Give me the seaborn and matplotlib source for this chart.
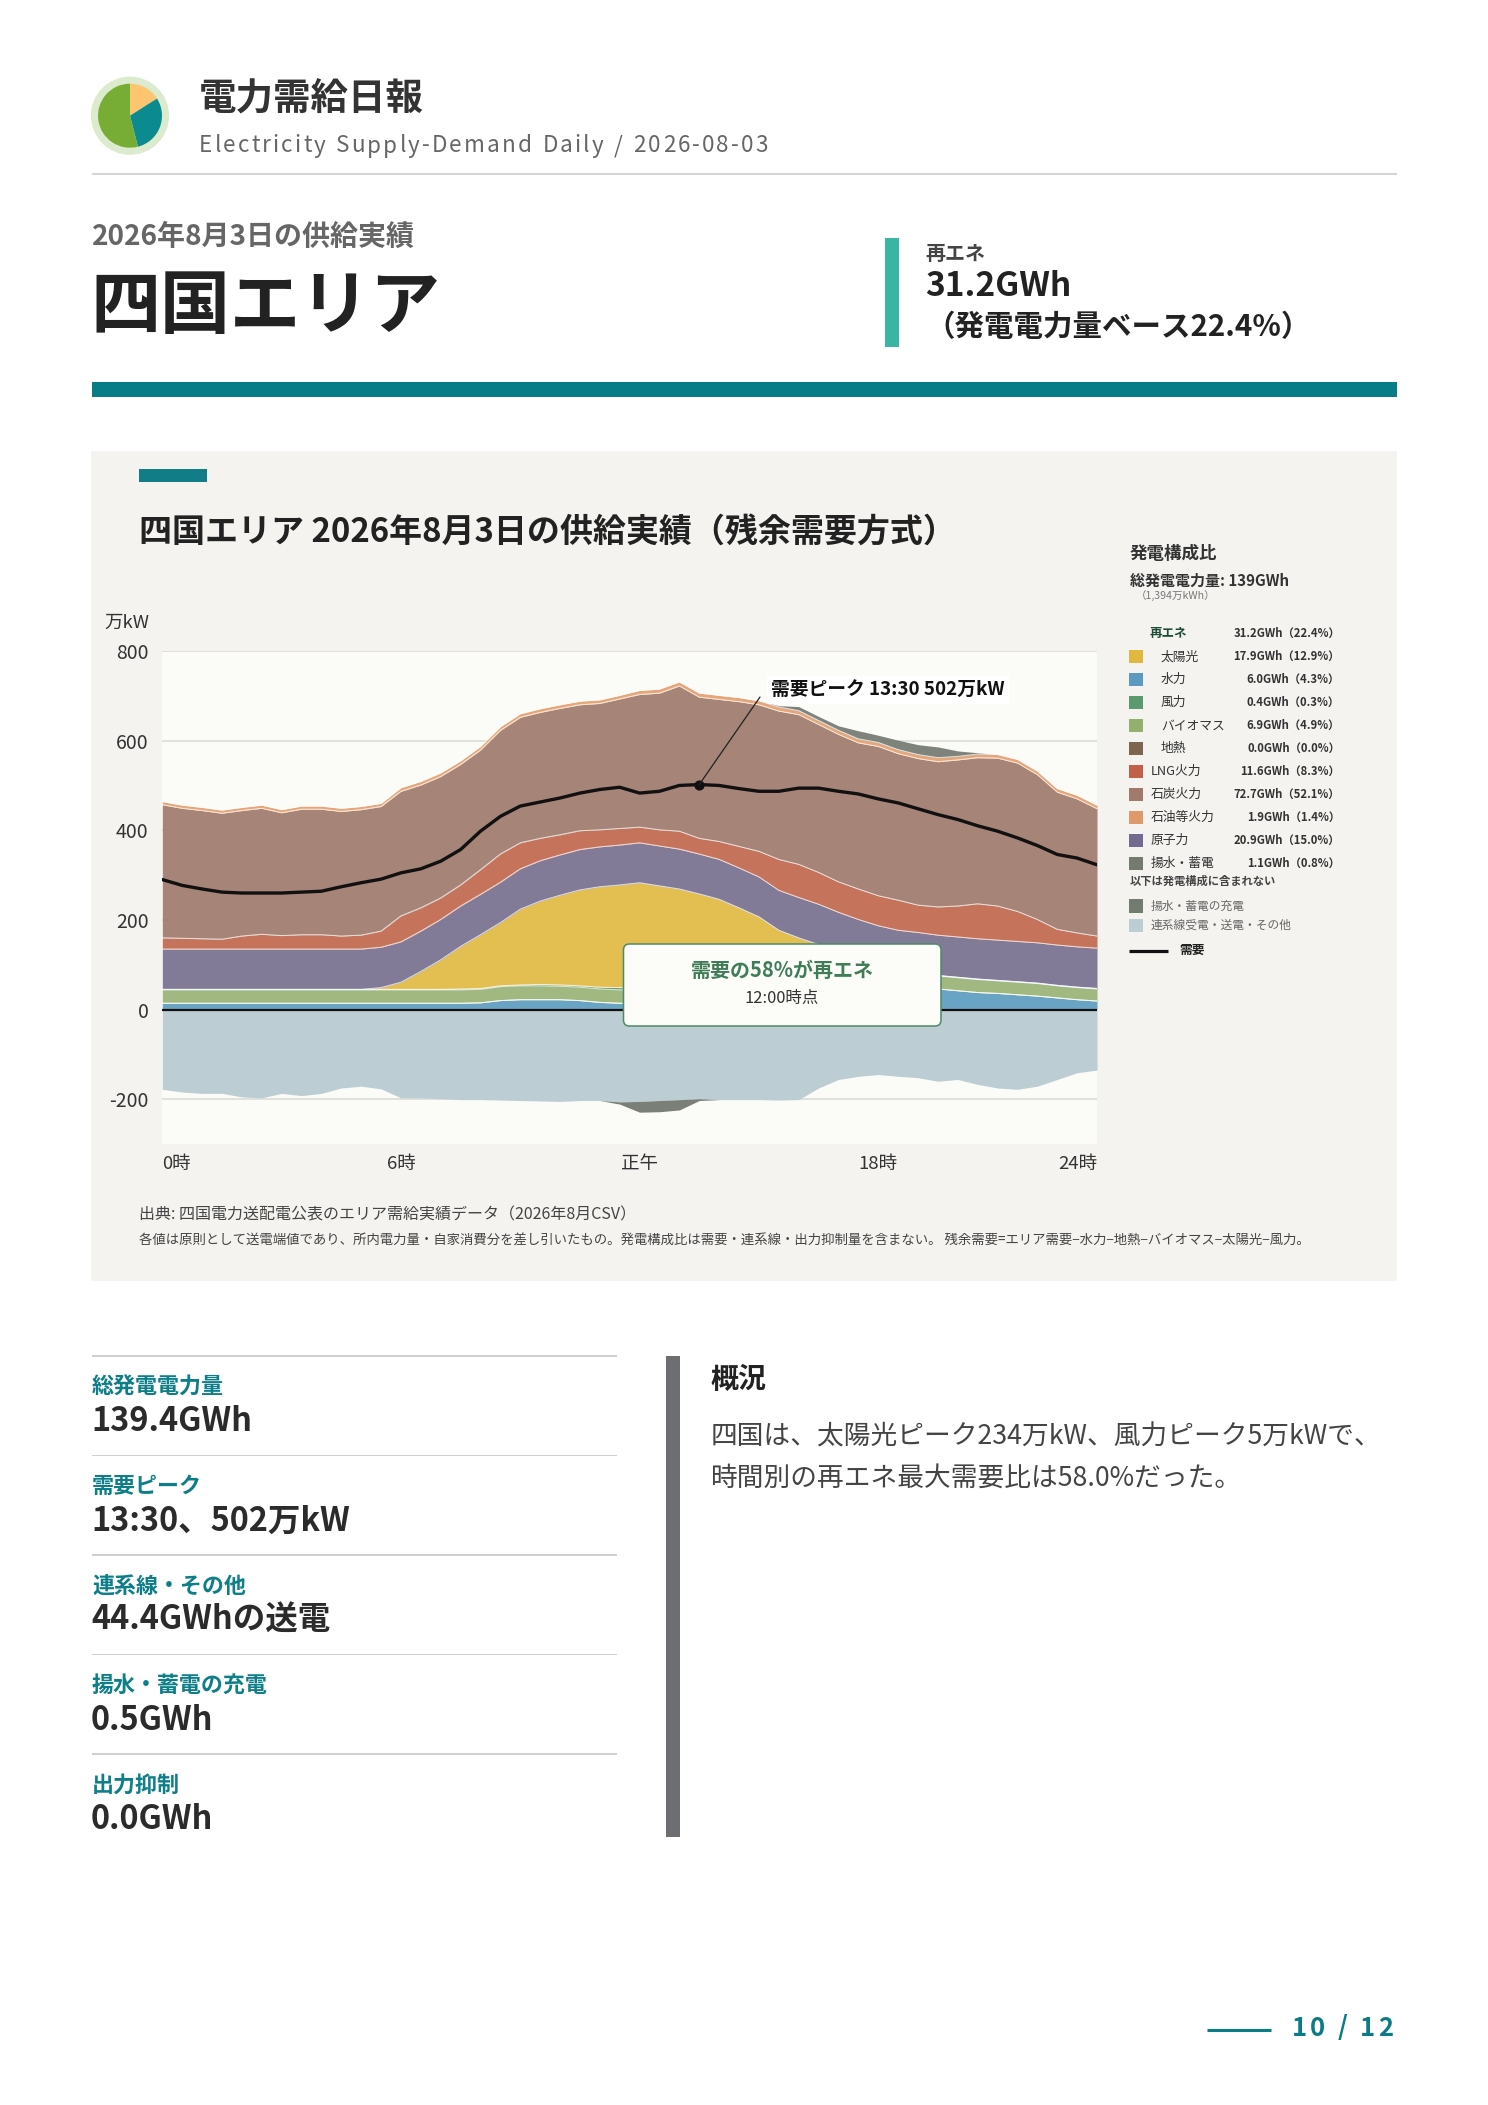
import numpy as np
import matplotlib
matplotlib.use("Agg")
import matplotlib.pyplot as plt
import seaborn as sns
from matplotlib.patches import Rectangle, FancyBboxPatch, Circle

# ---------------- data (万kW, 30-minute steps, 0:00 - 23:30) ----------------
hours = np.arange(48) * 0.5

hydro = [14, 14, 14, 14, 14, 14, 14, 14, 14, 14, 14, 14,
         14, 14, 14, 14, 15, 20, 22, 22, 22, 20, 16, 14,
         14, 14, 16, 18, 22, 26, 30, 34, 38, 42, 45, 47, 48, 48, 48, 46,
         42, 38, 36, 33, 30, 26, 22, 19]
geothermal = [0] * 48
biomass = [30, 30, 30, 30, 30, 30, 30, 30, 30, 30, 30, 30,
           30, 30, 30, 30, 30, 31, 31, 31, 30, 30, 30, 30,
           30, 30, 30, 30, 30, 30, 30, 30, 30, 30, 30, 30, 30, 29, 29, 29,
           29, 29, 28, 28, 28, 27, 27, 27]
wind = [1, 1, 1, 1, 1, 1, 1, 1, 1, 1, 1, 1,
        1, 1, 1, 2, 2, 2, 2, 3, 3, 3, 4, 5,
        5, 4, 3, 3, 2, 2, 2, 2, 2, 2, 2, 1, 1, 1, 1, 1,
        1, 1, 1, 1, 1, 1, 1, 1]
solar = [0, 0, 0, 0, 0, 0, 0, 0, 0, 0, 0, 4,
         16, 40, 66, 95, 120, 141, 169, 186, 200, 214, 224, 229,
         234, 228, 220, 207, 192, 169, 145, 111, 90, 71, 50, 33, 18, 9, 4, 0,
         0, 0, 0, 0, 0, 0, 0, 0]
nuclear = [90, 90, 90, 90, 90, 90, 90, 90, 90, 90, 90, 90,
           90, 90, 90, 90, 90, 90, 90, 90, 90, 90, 89, 89,
           89, 89, 89, 89, 89, 89, 89, 89, 90, 90, 90, 90, 90, 90, 90, 90,
           90, 90, 90, 90, 90, 90, 90, 90]
lng = [25, 24, 23, 22, 29, 33, 30, 32, 32, 29, 31, 36,
       58, 52, 48, 47, 55, 63, 58, 50, 45, 42, 38, 37,
       35, 36, 40, 35, 40, 48, 57, 69, 74, 71, 68, 68, 67, 67, 61, 63,
       69, 78, 76, 67, 52, 35, 31, 27]
coal = [297, 290, 286, 281, 280, 281, 274, 280, 280, 278, 280, 278,
        278, 274, 271, 269, 267, 276, 280, 281, 282, 281, 282, 289,
        296, 305, 324, 315, 317, 323, 327, 331, 334, 330, 329, 326, 333, 327, 327, 324,
        326, 326, 330, 331, 323, 306, 299, 284]
oil = [7] * 12 + [8] * 12 + [9] * 16 + [8] * 8
pumped_gen = [0] * 31 + [3, 9, 9, 10, 18, 16, 21, 22, 24, 12, 3] + [0] * 6
export = [178, 184, 187, 187, 195, 197, 187, 192, 187, 175, 171, 177,
          197, 197, 199, 201, 201, 202, 203, 204, 205, 203, 203, 206,
          205, 203, 201, 199, 201, 201, 201, 202, 201, 175, 156, 149, 145, 149, 152, 160,
          156, 167, 175, 178, 171, 156, 141, 135]
charging = [0] * 23 + [5, 24, 25, 23, 4] + [0] * 20
demand = [290, 277, 269, 262, 260, 260, 260, 262, 264, 274, 283, 291,
          305, 314, 331, 357, 398, 431, 454, 463, 472, 483, 491, 496,
          483, 487, 500, 502, 500, 493, 487, 487, 494, 494, 487, 481, 470, 461, 448, 435,
          424, 410, 398, 383, 366, 346, 338, 323]

x_ticks = [0, 6, 12, 18, 23.5]
x_ticklabels = ["0時", "6時", "正午", "18時", "24時"]
y_ticks = [-200, 0, 200, 400, 600, 800]

legend_labels = ["太陽光", "水力", "風力", "バイオマス", "地熱",
                 "LNG火力", "石炭火力", "石油等火力", "原子力", "揚水・蓄電"]
legend_values = ["17.9GWh（12.9%）", "6.0GWh（4.3%）", "0.4GWh（0.3%）", "6.9GWh（4.9%）",
                 "0.0GWh（0.0%）", "11.6GWh（8.3%）", "72.7GWh（52.1%）", "1.9GWh（1.4%）",
                 "20.9GWh（15.0%）", "1.1GWh（0.8%）"]
renew_value = "31.2GWh（22.4%）"

stat_labels = ["総発電電力量", "需要ピーク", "連系線・その他", "揚水・蓄電の充電", "出力抑制"]
stat_values = ["139.4GWh", "13:30、502万kW", "44.4GWhの送電", "0.5GWh", "0.0GWh"]

logo_shares = [16, 30, 54]

# ---------------- style ----------------
sns.set_theme(style="white")
plt.rcParams["font.family"] = ["Noto Sans CJK JP", "DejaVu Sans"]

W, H = 1488, 2105
PT = 0.72  # px -> pt at dpi 100

fig = plt.figure(figsize=(W / 100, H / 100), dpi=100)
fig.patch.set_facecolor("white")

bg = fig.add_axes([0, 0, 1, 1], zorder=0, label="bg")
bg.set_xlim(0, W)
bg.set_ylim(H, 0)
bg.axis("off")


def txt(a, x, y, s, px, color="#333333", weight="normal", ha="left", va="center", **kw):
    return a.text(x, y, s, fontsize=px * PT, color=color, fontweight=weight,
                  ha=ha, va=va, **kw)


def spaced(a, x, y, s, px, target_w, color="#333333", weight="normal"):
    r = fig.canvas.get_renderer()
    arts, widths = [], []
    for ch in s:
        if ch == " ":
            arts.append(None)
            widths.append(px * 0.28)
            continue
        t = txt(a, x, y, ch, px, color=color, weight=weight)
        arts.append(t)
        widths.append(t.get_window_extent(r).width)
    gap = (target_w - sum(widths)) / max(len(s) - 1, 1)
    cur = x
    for t, w in zip(arts, widths):
        if t is not None:
            t.set_x(cur)
        cur += w + gap


# ---------------- header ----------------
logo = fig.add_axes([(130 - 40) / W, 1 - (115.7 + 40) / H, 80 / W, 80 / H], zorder=2, label="logo")
logo.add_patch(Circle((0, 0), 1.2, color="#dcebcd"))
logo.pie(logo_shares, colors=["#fdc56f", "#0b8a8f", "#78ad35"], startangle=90,
         counterclock=False, radius=1.0, wedgeprops=dict(linewidth=0))
logo.set_xlim(-1.25, 1.25)
logo.set_ylim(-1.25, 1.25)
logo.set_aspect("equal")
logo.axis("off")

txt(bg, 199, 98, "電力需給日報", 37.5, color="#333333", weight="bold")
spaced(bg, 199, 146, "Electricity Supply-Demand Daily / 2026-08-03", 22.5, 569, color="#666666")
bg.add_patch(Rectangle((92, 173.3), 1305, 2, color="#d5d5d5", lw=0))

txt(bg, 92, 237, "2026年8月3日の供給実績", 28, color="#666666", weight="bold")
txt(bg, 90, 308, "四国エリア", 70, color="#222222", weight="bold")
bg.add_patch(Rectangle((885, 238), 14, 109, color="#3ab5a3", lw=0))
txt(bg, 925, 254, "再エネ", 20, color="#444444", weight="bold")
txt(bg, 925, 287, "31.2GWh", 33.5, color="#222222", weight="bold")
txt(bg, 925, 327, "（発電電力量ベース22.4%）", 29.5, color="#222222", weight="bold")
bg.add_patch(Rectangle((92, 382), 1305, 15, color="#067d87", lw=0))

# ---------------- chart panel ----------------
bg.add_patch(Rectangle((91, 451), 1306, 830, color="#f4f3f0", lw=0))
bg.add_patch(Rectangle((139, 469), 68, 13, color="#117d86", lw=0))
txt(bg, 139, 532, "四国エリア 2026年8月3日の供給実績（残余需要方式）", 33, color="#222222", weight="bold")
txt(bg, 149, 623, "万kW", 18.5, color="#333333", ha="right")

ax = fig.add_axes([162.3 / W, 1 - 1144 / H, (1097 - 162.3) / W, (1144 - 651) / H], zorder=1, label="chart")
ax.set_facecolor("#fbfbf7")

layer_colors = ["#62a0c2", "#7d6650", "#9cb57a", "#5a9a6e", "#e2bb48",
                "#7a7492", "#c46c54", "#a27e70", "#e6a272", "#777d75"]
layers = [hydro, geothermal, biomass, wind, solar, nuclear, lng, coal, oil, pumped_gen]
ax.stackplot(hours, *layers, colors=layer_colors, alpha=0.95, linewidth=0, zorder=2)
cum = np.cumsum(np.array(layers, dtype=float), axis=0)
for row in cum[:-1]:
    ax.plot(hours, row, color="white", lw=0.7, alpha=0.75, zorder=3)

exp_arr = np.array(export, dtype=float)
chg_arr = np.array(charging, dtype=float)
ax.fill_between(hours, 0, -exp_arr, color="#bccdd3", lw=0, zorder=2)
near_chg = (chg_arr > 0) | (np.roll(chg_arr, 1) > 0) | (np.roll(chg_arr, -1) > 0)
ax.fill_between(hours, -exp_arr, -(exp_arr + chg_arr), where=near_chg,
                color="#7a7f77", lw=0, zorder=2)

ax.axhline(0, color="#111111", lw=1.6, zorder=4)
sns.lineplot(x=hours, y=demand, ax=ax, color="#111111", lw=2.4, zorder=5)
pk = int(np.argmax(demand))
ax.scatter([hours[pk]], [demand[pk]], s=40, color="#111111", zorder=6)

ax.set_xlim(0, 23.5)
ax.set_ylim(-300, 800)
ax.set_yticks(y_ticks)
ax.set_yticklabels([str(v) for v in y_ticks])
ax.set_xticks(x_ticks)
ax.set_xticklabels(x_ticklabels)
ax.tick_params(axis="y", length=0, pad=10, labelsize=19.5 * PT, labelcolor="#333333")
ax.tick_params(axis="x", length=0, pad=8, labelsize=18.5 * PT, labelcolor="#333333")
xl = ax.get_xticklabels()
xl[0].set_ha("left")
xl[-1].set_ha("right")
ax.grid(False)
ax.yaxis.grid(True, color="#d8d8d4", lw=1.1)
ax.set_axisbelow(True)
for s in ax.spines.values():
    s.set_visible(False)
ax.set_xlabel("")
ax.set_ylabel("")

ov = fig.add_axes([0, 0, 1, 1], zorder=3, label="overlay")
ov.set_xlim(0, W)
ov.set_ylim(H, 0)
ov.axis("off")
ov.patch.set_alpha(0)

peak_h = hours[pk]
peak_label = f"需要ピーク {int(peak_h):d}:{int(round((peak_h % 1) * 60)):02d} {demand[pk]}万kW"
ax.annotate("", xy=(peak_h, demand[pk]), xycoords="data",
            xytext=(760 / W, 1 - 697 / H), textcoords="figure fraction",
            arrowprops=dict(arrowstyle="-", color="#222222", lw=0.9, shrinkA=0, shrinkB=0),
            annotation_clip=False, zorder=7)
txt(ov, 771, 690, peak_label, 18.8, color="#111111", weight="bold",
    bbox=dict(fc="white", ec="none", pad=3))

ov.add_patch(FancyBboxPatch((623.5, 944), 317.5, 82, boxstyle="round,pad=0,rounding_size=6",
                            fc="#fcfcf9", ec="#4f8a66", lw=1.1))
txt(ov, 782, 970, "需要の58%が再エネ", 20, color="#3e7d55", weight="bold", ha="center")
txt(ov, 782, 998, "12:00時点", 16.5, color="#333333", ha="center")

# legend
txt(bg, 1130, 554, "発電構成比", 17.5, color="#333333", weight="bold")
txt(bg, 1130, 581, "総発電電力量: 139GWh", 15, color="#333333", weight="bold")
txt(bg, 1136, 597, "（1,394万kWh）", 10.5, color="#777777")
txt(bg, 1150, 633, "再エネ", 12.5, color="#1e4d36", weight="bold")
txt(bg, 1340, 633, renew_value, 11.3, color="#333333", weight="bold", ha="right")
legend_colors = ["#e0b840", "#5b9bbf", "#5a9a6e", "#93b06e", "#7d6650",
                 "#c2604a", "#a07b6c", "#e09a6a", "#736a8f", "#737a70"]
for i, (lab, val, col) in enumerate(zip(legend_labels, legend_values, legend_colors)):
    y = 656.7 + i * 23
    bg.add_patch(Rectangle((1129.3, y - 6.7), 13.7, 13.4, color=col, lw=0))
    x_lab = 1161 if i < 5 else 1151
    txt(bg, x_lab, y, lab, 12.8, color="#333333")
    txt(bg, 1340, y, val, 11.3, color="#333333", weight="bold", ha="right")
txt(bg, 1130, 881.7, "以下は発電構成に含まれない", 11.3, color="#444444", weight="bold")
bg.add_patch(Rectangle((1129.3, 906 - 6.7), 13.7, 13.4, color="#737a70", lw=0))
txt(bg, 1151, 906, "揚水・蓄電の充電", 11.8, color="#666666")
bg.add_patch(Rectangle((1129.3, 925.7 - 6.7), 13.7, 13.4, color="#bccdd3", lw=0))
txt(bg, 1151, 925.7, "連系線受電・送電・その他", 11.8, color="#666666")
bg.plot([1129.3, 1168.3], [950.7, 950.7], color="#111111", lw=2.3, solid_capstyle="butt")
txt(bg, 1179, 950.7, "需要", 12.8, color="#222222", weight="bold")

txt(bg, 139, 1215, "出典: 四国電力送配電公表のエリア需給実績データ（2026年8月CSV）", 16, color="#444444")
txt(bg, 139, 1241, "各値は原則として送電端値であり、所内電力量・自家消費分を差し引いたもの。発電構成比は需要・連系線・出力抑制量を含まない。 残余需要=エリア需要−水力−地熱−バイオマス−太陽光−風力。",
    13.4, color="#444444")

# ---------------- bottom stats ----------------
for i, (lab, val) in enumerate(zip(stat_labels, stat_values)):
    top = 1356 + i * 99.5
    bg.add_patch(Rectangle((92, top - 0.75), 525, 1.5, color="#d0d0d0", lw=0))
    txt(bg, 92, top + 31, lab, 22, color="#0e7f88", weight="bold")
    txt(bg, 91, top + 65.5, val, 32.5, color="#2b2b2b", weight="bold")

bg.add_patch(Rectangle((666, 1356), 14, 481, color="#6d6e72", lw=0))
txt(bg, 711, 1380, "概況", 28, color="#222222", weight="bold")
txt(bg, 711, 1437, "四国は、太陽光ピーク234万kW、風力ピーク5万kWで、", 26.7, color="#444444")
txt(bg, 711, 1478, "時間別の再エネ最大需要比は58.0%だった。", 26.7, color="#444444")

# ---------------- footer ----------------
bg.plot([1207, 1271], [2030, 2030], color="#0b7c86", lw=2.2, solid_capstyle="butt")
spaced(bg, 1292, 2028, "10 / 12", 25.5, 101, color="#0b7c86", weight="bold")

fig.savefig("out.png", dpi=100, facecolor="white")
